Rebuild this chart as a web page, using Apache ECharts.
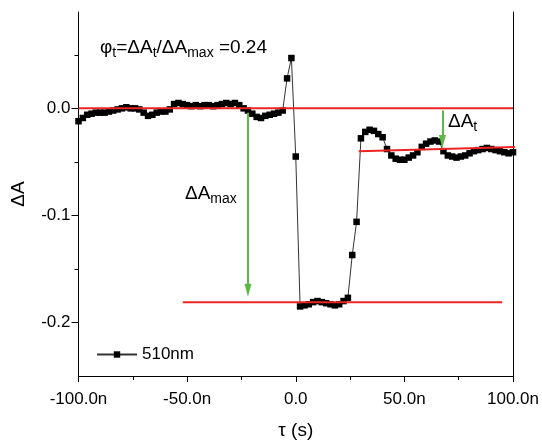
<!DOCTYPE html>
<html><head><meta charset="utf-8">
<script src="https://cdn.jsdelivr.net/npm/echarts@6/dist/echarts.min.js"></script>
<style>html,body{margin:0;padding:0;background:#fff}#c{width:542px;height:441px}</style>
</head><body><div id="c"></div>
<script>
// time (ns)
const tau = [-100,-98,-96,-94,-92,-90,-88,-86,-84,-82,-80,-78,-76,-74,-72,-70,-68,-66,-64,-62,
  -60,-58,-56,-54,-52,-50,-48,-46,-44,-42,-40,-38,-36,-34,-32,-30,-28,-26,-24,-22,
  -20,-18,-16,-14,-12,-10,-8,-6,-4,-2,0,2,4,6,8,10,12,14,16,18,
  20,22,24,26,28,30,32,34,36,38,40,42,44,46,48,50,52,54,56,58,
  60,62,64,66,68,70,72,74,76,78,80,82,84,86,88,90,92,94,96,98,100];
// ΔA at 510 nm
const dA = [-0.012,-0.009,-0.006,-0.005,-0.004,-0.004,-0.004,-0.003,-0.002,-0.001,
  0.000,0.001,0.000,0.000,-0.001,-0.004,-0.007,-0.006,-0.004,-0.003,
  -0.003,-0.001,0.004,0.005,0.004,0.003,0.002,0.003,0.002,0.003,
  0.003,0.002,0.003,0.004,0.005,0.004,0.005,0.003,0.000,-0.002,
  -0.005,-0.008,-0.009,-0.007,-0.006,-0.005,-0.004,-0.002,0.028,0.047,
  -0.045,-0.185,-0.184,-0.183,-0.181,-0.180,-0.181,-0.182,-0.183,-0.184,
  -0.183,-0.180,-0.177,-0.137,-0.106,-0.028,-0.022,-0.020,-0.021,-0.024,
  -0.027,-0.038,-0.044,-0.047,-0.048,-0.048,-0.046,-0.044,-0.041,-0.036,
  -0.033,-0.031,-0.030,-0.031,-0.040,-0.044,-0.045,-0.046,-0.045,-0.044,
  -0.042,-0.040,-0.039,-0.038,-0.037,-0.038,-0.039,-0.040,-0.041,-0.042,-0.041];
const yTicks = [-0.2, -0.1, 0];
const yMinorTicks = [-0.15, -0.05, 0.05];
// annotation lines
const zeroLine = [[-100, 0], [100, 0]];
const maxLine = [[-52, -0.181], [95, -0.181]];
const tLine = [[29, -0.040], [101, -0.036]];
const arrowMax = [[-22, -0.004], [-22, -0.170]];
const arrowT = [[67.5, -0.002], [67.5, -0.031]];

const FF = 'Liberation Sans, Arial, sans-serif';
const chart = echarts.init(document.getElementById('c'));
const RED = '#ee2424', GREEN = '#5cb946';
const richStyle = {
  n: {fontSize: 19, lineHeight: 26, fontFamily: FF, color: '#000'},
  s: {fontSize: 14, lineHeight: 12, verticalAlign: 'bottom', fontFamily: FF, color: '#000'}
};
chart.setOption({
  animation: false,
  grid: {left: 78.5, right: 29, top: 12, bottom: 65, containLabel: false, outerBoundsMode: 'none'},
  legend: {
    data: ['510nm'], left: 91, top: 341, itemWidth: 40, itemHeight: 8,
    textStyle: {fontSize: 17, color: '#000', fontFamily: FF}
  },
  xAxis: {
    type: 'value', min: -100, max: 100, interval: 50,
    axisLine: {onZero: false, lineStyle: {color: '#000', width: 1}},
    axisTick: {show: true, length: 6, lineStyle: {color: '#000'}},
    minorTick: {show: true, splitNumber: 2, length: 4, lineStyle: {color: '#000'}},
    splitLine: {show: false},
    axisLabel: {fontSize: 17, color: '#000', fontFamily: FF, margin: 15,
      formatter: v => v === 0 ? '0.0' : v.toFixed(1) + 'n'},
    name: 'τ (s)', nameLocation: 'middle', nameGap: 45,
    nameTextStyle: {fontSize: 19, color: '#000', fontFamily: FF}
  },
  yAxis: [{
    type: 'value', min: -0.25, max: 0.09, position: 'left',
    axisLine: {show: true, onZero: false, lineStyle: {color: '#000', width: 1}},
    axisTick: {show: true, length: 7, customValues: yTicks, lineStyle: {color: '#000'}},
    axisLabel: {customValues: yTicks, fontSize: 17, color: '#000', fontFamily: FF, margin: 8,
      formatter: v => v.toFixed(1)},
    splitLine: {show: false},
    name: 'ΔA', nameLocation: 'middle', nameGap: 50,
    nameTextStyle: {fontSize: 19, color: '#000', fontFamily: FF}
  }, {
    type: 'value', min: -0.25, max: 0.09, position: 'left',
    axisLine: {show: false, onZero: false},
    axisTick: {show: true, length: 4, customValues: yMinorTicks, lineStyle: {color: '#000'}},
    axisLabel: {show: false}, splitLine: {show: false}
  }, {
    type: 'value', min: -0.25, max: 0.09, position: 'right',
    axisLine: {show: true, onZero: false, lineStyle: {color: '#000', width: 1}},
    axisTick: {show: false}, axisLabel: {show: false}, splitLine: {show: false}
  }],
  series: [{
    name: '510nm', type: 'line', data: tau.map((t, i) => [t, dA[i]]),
    symbol: 'rect', symbolSize: 6.5, itemStyle: {color: '#000'},
    lineStyle: {color: '#333', width: 1}, z: 2
  }, {
    name: 'zero', type: 'line', data: zeroLine, symbol: 'none', silent: true,
    lineStyle: {color: RED, width: 2}, z: 4,
    markLine: {
      silent: true, symbol: ['none', 'triangle'], symbolSize: [7, 13],
      lineStyle: {color: GREEN, width: 2, type: 'solid'}, label: {show: false},
      data: [
        [{coord: arrowMax[0]}, {coord: arrowMax[1]}],
        [{coord: arrowT[0]}, {coord: arrowT[1]}]
      ]
    }
  }, {
    name: 'max', type: 'line', data: maxLine, symbol: 'none', silent: true,
    lineStyle: {color: RED, width: 2}, z: 4
  }, {
    name: 'tline', type: 'line', data: tLine, symbol: 'none', silent: true,
    lineStyle: {color: RED, width: 2}, z: 4
  }],
  graphic: [{
    type: 'text', left: 100, top: 38,
    style: {text: '{n|φ}{s|t}{n|=ΔA}{s|t}{n|/ΔA}{s|max}{n| =0.24}', rich: richStyle}
  }, {
    type: 'text', left: 185, top: 184,
    style: {text: '{n|ΔA}{s|max}', rich: richStyle}
  }, {
    type: 'text', left: 448, top: 112,
    style: {text: '{n|ΔA}{s|t}', rich: richStyle}
  }]
});
</script></body></html>
